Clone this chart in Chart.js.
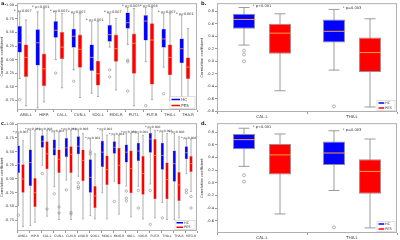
<!DOCTYPE html>
<html>
<head>
<meta charset="utf-8">
<script src="https://cdn.jsdelivr.net/npm/chart.js@4.4.0/dist/chart.umd.min.js"></script>
<style>
body { margin: 0; background: #fff; }
.panel { position: absolute; width: 200px; height: 120px; }
</style>
</head>
<body>
<div class="panel" style="left:0;top:0"><canvas id="chartA" width="200" height="120"></canvas></div>
<div class="panel" style="left:200px;top:0"><canvas id="chartB" width="200" height="120"></canvas></div>
<div class="panel" style="left:0;top:120px"><canvas id="chartC" width="200" height="120"></canvas></div>
<div class="panel" style="left:200px;top:120px"><canvas id="chartD" width="200" height="120"></canvas></div>
<script>
// each row: [min, q1, median, q3, max]

// panel a
const labelsA = ["AMG.L", "HIP.R", "CAL.L", "CUN.L", "SOG.L", "MOG.R", "PUT.L", "PUT.R", "THA.L", "THA.R"];
const hcA = [
    [-0.35, 0.13, 0.31, 0.62, 0.88],
    [-0.89, -0.11, 0.31, 0.56, 0.88],
    [0.00, 0.40, 0.54, 0.71, 0.88],
    [-0.19, 0.22, 0.43, 0.57, 0.85],
    [-0.62, -0.21, 0.04, 0.28, 0.70],
    [0.23, 0.33, 0.46, 0.64, 0.85],
    [0.28, 0.57, 0.68, 0.87, 0.96],
    [-0.04, 0.35, 0.71, 0.82, 0.96],
    [-0.14, 0.22, 0.38, 0.57, 0.85],
    [-0.74, -0.07, 0.20, 0.39, 0.82],
];
const pesA = [
    [-0.85, -0.32, 0.04, 0.28, 0.73],
    [-0.78, -0.49, -0.17, 0.11, 0.94],
    [-0.52, 0.01, 0.23, 0.51, 0.85],
    [-0.70, -0.15, 0.19, 0.46, 0.85],
    [-0.68, -0.48, -0.26, -0.02, 0.70],
    [-0.56, -0.04, 0.20, 0.46, 0.76],
    [-0.85, -0.26, 0.30, 0.48, 0.94],
    [-0.74, -0.46, 0.36, 0.67, 0.96],
    [-0.75, -0.29, 0.04, 0.28, 0.85],
    [-0.81, -0.36, -0.14, 0.04, 0.57],
];
const hcOutA = [[-0.74], [], [-0.25], [-0.40], [], [-0.19, -0.32], [-0.01, -0.04, -0.58], [-0.85], [-0.63], []];
const pesOutA = [[], [], [], [], [], [], [], [], [], []];
const pA = ["* p=0.007", "* p=0.001", "* p=0.007", "* p=0.007", "* p=0.001", "* p=0.007", "* p=0.003", "* p=0.008", "* p=0.007", "* p=0.001"];

// panel b
const labelsB = ["CAL.L", "THA.L"];
const hcB = [
    [0.26, 0.52, 0.67, 0.76, 0.86],
    [-0.14, 0.30, 0.48, 0.67, 0.83],
];
const pesB = [
    [-0.47, 0.12, 0.45, 0.60, 0.76],
    [-0.73, -0.17, 0.14, 0.38, 0.68],
];
const hcOutB = [[0.17, 0.11, 0.00], [-0.72]];
const pesOutB = [[], []];
const pB = ["* p<0.001", "* p=0.003"];

// panel c
const labelsC = ["AMG.L", "HIP.R", "CAL.L", "CUN.L", "CUN.R", "LING.R", "SOG.L", "MOG.L", "MOG.R", "IOG.L", "IOG.R", "PUT.R", "THA.L", "THA.R", "MTG.R"];
const hcC = [
    [-0.49, 0.11, 0.28, 0.61, 0.83],
    [-0.85, -0.13, 0.30, 0.54, 0.89],
    [0.25, 0.57, 0.69, 0.80, 0.89],
    [-0.14, 0.43, 0.55, 0.72, 0.86],
    [-0.02, 0.40, 0.57, 0.75, 0.89],
    [0.05, 0.45, 0.60, 0.78, 0.89],
    [-0.67, -0.25, 0.03, 0.36, 0.73],
    [-0.25, 0.22, 0.49, 0.70, 0.89],
    [-0.04, 0.46, 0.58, 0.69, 0.80],
    [-0.13, 0.30, 0.49, 0.63, 0.83],
    [-0.13, 0.33, 0.51, 0.66, 0.83],
    [-0.09, 0.48, 0.73, 0.84, 0.93],
    [-0.43, 0.17, 0.43, 0.66, 0.86],
    [-0.74, -0.05, 0.28, 0.52, 0.83],
    [0.10, 0.36, 0.48, 0.60, 0.73],
];
const pesC = [
    [-0.87, -0.25, 0.00, 0.27, 0.70],
    [-0.79, -0.51, -0.25, 0.02, 0.89],
    [-0.68, 0.18, 0.46, 0.69, 0.89],
    [-0.74, 0.11, 0.36, 0.54, 0.86],
    [-0.74, 0.11, 0.45, 0.60, 0.89],
    [-0.73, -0.04, 0.34, 0.54, 0.83],
    [-0.73, -0.53, -0.31, -0.13, 0.46],
    [-0.73, -0.11, 0.17, 0.43, 0.80],
    [-0.64, -0.10, 0.25, 0.57, 0.80],
    [-0.69, -0.26, 0.19, 0.52, 0.83],
    [-0.73, -0.29, 0.10, 0.42, 0.80],
    [-0.71, -0.37, 0.43, 0.73, 0.89],
    [-0.74, -0.37, -0.01, 0.30, 0.83],
    [-0.71, -0.40, -0.11, 0.13, 0.77],
    [-0.23, 0.13, 0.28, 0.42, 0.73],
];
const hcOutC = [[-0.66], [], [0.10], [-0.27], [-0.20], [-0.07, -0.14, -0.17], [0.50, 0.46], [], [-0.41], [-0.22, -0.35, -0.40], [-0.21, -0.53], [-0.21, -0.83], [-0.71], [], [-0.20, -0.25]];
const pesOutC = [[], [], [-0.55], [-0.51, -0.62], [-0.61, -0.64], [], [], [], [], [], [], [], [], [], [-0.32, -0.53]];
const pC = ["* p=0.007", "* p=0.001", "* p=0.008", "* p=0.003", "* p=0.004", "* p=0.006", "* p=0.002", "* p=0.001", "* p=0.002", "* p=0.008", "* p=0.001", "* p=0.008", "* p=0.003", "* p=0.008", "* p=0.008"];

// panel d
const labelsD = ["CAL.L", "THA.L"];
const hcD = [
    [0.26, 0.53, 0.68, 0.77, 0.86],
    [-0.12, 0.28, 0.47, 0.65, 0.82],
];
const pesD = [
    [-0.49, 0.13, 0.44, 0.61, 0.77],
    [-0.71, -0.17, 0.18, 0.37, 0.69],
];
const hcOutD = [[0.12, 0.02], [-0.70]];
const pesOutD = [[], []];
const pD = ["* p<0.001", "* p=0.003"];

Chart.defaults.font.family = "'DejaVu Sans'";

function boxParts(cfg) {
    return {
        id: "boxParts",
        beforeDatasetsDraw(chart) {
            // whiskers + caps, behind the boxes
            const ctx = chart.ctx;
            const y = chart.scales.y;
            ctx.save();
            ctx.strokeStyle = "#9a9a9a";
            ctx.lineWidth = cfg.whisker;
            [cfg.hc, cfg.pes].forEach((rows, i) => {
                chart.getDatasetMeta(i).data.forEach((bar, j) => {
                    const r = rows[j];
                    const lo = y.getPixelForValue(r[0]);
                    const hi = y.getPixelForValue(r[4]);
                    const half = bar.width / 4;
                    ctx.beginPath();
                    ctx.moveTo(bar.x, hi);
                    ctx.lineTo(bar.x, lo);
                    ctx.moveTo(bar.x - half, hi);
                    ctx.lineTo(bar.x + half, hi);
                    ctx.moveTo(bar.x - half, lo);
                    ctx.lineTo(bar.x + half, lo);
                    ctx.stroke();
                });
            });
            ctx.restore();
        },
        afterDatasetsDraw(chart) {
            const ctx = chart.ctx;
            const y = chart.scales.y;
            const metaHc = chart.getDatasetMeta(0);
            const metaPes = chart.getDatasetMeta(1);
            ctx.save();
            [[cfg.hc, cfg.hcOut, metaHc], [cfg.pes, cfg.pesOut, metaPes]].forEach(([rows, outs, meta]) => {
                meta.data.forEach((bar, j) => {
                    const m = y.getPixelForValue(rows[j][2]);
                    ctx.strokeStyle = "#ffa040";
                    ctx.lineWidth = cfg.medianWidth;
                    ctx.beginPath();
                    ctx.moveTo(bar.x - bar.width / 2, m);
                    ctx.lineTo(bar.x + bar.width / 2, m);
                    ctx.stroke();
                    ctx.strokeStyle = "#888";
                    ctx.lineWidth = 0.6;
                    outs[j].forEach(v => {
                        ctx.beginPath();
                        ctx.arc(bar.x, y.getPixelForValue(v), cfg.dot, 0, Math.PI * 2);
                        ctx.stroke();
                    });
                });
            });
            // p-values above each pair
            ctx.fillStyle = "#333";
            ctx.font = cfg.pFont + "px 'DejaVu Sans'";
            ctx.textAlign = "center";
            ctx.textBaseline = "middle";
            cfg.pvals.forEach((t, j) => {
                const a = metaHc.data[j];
                const b = metaPes.data[j];
                const top = Math.max(cfg.hc[j][4], cfg.pes[j][4]);
                ctx.fillText(t, (a.x + b.x) / 2, y.getPixelForValue(top) - 1);
            });
            ctx.restore();
        },
        afterDraw(chart) {
            const ctx = chart.ctx;
            const area = chart.chartArea;
            ctx.save();
            ctx.strokeStyle = "#b0b0b0";
            ctx.lineWidth = 1;
            ctx.strokeRect(area.left + 0.5, area.top + 0.5, area.right - area.left - 1, area.bottom - area.top - 1);

            // legend, bottom right inside the axes
            const lx = area.right - cfg.legW - 2;
            const ly = area.bottom - cfg.legH - 1.5;
            ctx.fillStyle = "#fff";
            ctx.fillRect(lx, ly, cfg.legW, cfg.legH);
            ctx.strokeStyle = "#cccccc";
            ctx.lineWidth = 0.6;
            ctx.strokeRect(lx, ly, cfg.legW, cfg.legH);
            ctx.font = cfg.legFont + "px 'DejaVu Sans'";
            ctx.textAlign = "left";
            ctx.textBaseline = "middle";
            [0, 1].forEach(k => {
                const ds = chart.data.datasets[k];
                const ry = ly + cfg.legH * (k * 2 + 1) / 4;
                ctx.strokeStyle = ds.backgroundColor;
                ctx.lineWidth = 1.5;
                ctx.beginPath();
                ctx.moveTo(lx + 1.5, ry);
                ctx.lineTo(lx + cfg.legW * 0.4, ry);
                ctx.stroke();
                ctx.fillStyle = "#333";
                ctx.fillText(ds.label, lx + cfg.legW * 0.45, ry);
            });

            ctx.fillStyle = "#222";
            ctx.font = "bold 5px 'DejaVu Sans'";
            ctx.textBaseline = "top";
            ctx.fillText(cfg.letter, 1, 1);
            ctx.restore();
        }
    };
}

function buildChart(id, cfg) {
    const datasets = [
        {
            label: "HC",
            data: cfg.hc.map(r => [r[1], r[3]]),
            backgroundColor: "#0000ff",
            borderColor: "#8888a8",
            borderWidth: cfg.border,
            borderSkipped: false,
        },
        {
            label: "PES",
            data: cfg.pes.map(r => [r[1], r[3]]),
            backgroundColor: "#ff0000",
            borderColor: "#a88888",
            borderWidth: cfg.border,
            borderSkipped: false,
        },
    ];
    if (cfg.spacer) {
        datasets.push({ label: "", data: cfg.labels.map(() => null) });
    }

    new Chart(document.getElementById(id), {
        type: "bar",
        data: { labels: cfg.labels, datasets: datasets },
        options: {
            responsive: false,
            animation: false,
            events: [],
            datasets: {
                bar: {
                    categoryPercentage: cfg.catPct,
                    barPercentage: cfg.barPct,
                },
            },
            layout: { padding: { top: 3, right: 3, left: 0, bottom: 0 } },
            plugins: {
                legend: { display: false },
                tooltip: { enabled: false },
            },
            scales: {
                x: {
                    grid: { drawOnChartArea: false, drawTicks: true, tickLength: 2, color: "#999" },
                    border: { display: false },
                    ticks: {
                        color: "#333",
                        font: { size: cfg.xFont },
                        padding: 1,
                        autoSkip: false,
                        maxRotation: 0,
                    },
                    afterFit: (scale) => { scale.height = cfg.xH; },
                },
                y: {
                    min: cfg.yMin,
                    max: cfg.yMax,
                    grid: { drawOnChartArea: false, drawTicks: true, tickLength: 2, color: "#999" },
                    border: { display: false },
                    ticks: {
                        stepSize: cfg.step,
                        includeBounds: false,
                        color: "#333",
                        font: { size: 3.6 },
                        padding: 1,
                        callback: (v) => v.toFixed(cfg.dec),
                    },
                    title: {
                        display: true,
                        text: "Correlation coefficient",
                        color: "#333",
                        font: { size: 3.6 },
                        padding: { top: 0, bottom: 0 },
                    },
                    afterFit: (scale) => { scale.width = 17; },
                },
            },
        },
        plugins: [boxParts(cfg)],
    });
}

buildChart("chartA", {
    labels: labelsA, hc: hcA, pes: pesA, hcOut: hcOutA, pesOut: pesOutA, pvals: pA,
    yMin: -0.93, yMax: 1.04, step: 0.25, dec: 2,
    catPct: 1.05, barPct: 0.72, spacer: true,
    border: 0.6, whisker: 0.8, medianWidth: 0.8, dot: 1.2, pFont: 3.4, xFont: 3.8,
    xH: 10, legW: 25, legH: 12, legFont: 4, letter: "a.",
});
buildChart("chartB", {
    labels: labelsB, hc: hcB, pes: pesB, hcOut: hcOutB, pesOut: pesOutB, pvals: pB,
    yMin: -0.81, yMax: 0.93, step: 0.2, dec: 1,
    catPct: 0.8, barPct: 0.61, spacer: false,
    border: 1, whisker: 1, medianWidth: 1, dot: 1.5, pFont: 3.6, xFont: 4,
    xH: 8, legW: 18, legH: 10, legFont: 3.5, letter: "b.",
});
buildChart("chartC", {
    labels: labelsC, hc: hcC, pes: pesC, hcOut: hcOutC, pesOut: pesOutC, pvals: pC,
    yMin: -0.95, yMax: 1.02, step: 0.25, dec: 2,
    catPct: 1.17, barPct: 0.72, spacer: true,
    border: 0.5, whisker: 0.8, medianWidth: 0.7, dot: 1.2, pFont: 3, xFont: 3.1,
    xH: 9, legW: 20, legH: 9, legFont: 3.5, letter: "c.",
});
buildChart("chartD", {
    labels: labelsD, hc: hcD, pes: pesD, hcOut: hcOutD, pesOut: pesOutD, pvals: pD,
    yMin: -0.79, yMax: 0.94, step: 0.2, dec: 1,
    catPct: 0.8, barPct: 0.61, spacer: false,
    border: 1, whisker: 1, medianWidth: 1, dot: 1.5, pFont: 3.6, xFont: 4,
    xH: 7, legW: 18, legH: 10, legFont: 3.5, letter: "d.",
});
</script>
</body>
</html>
